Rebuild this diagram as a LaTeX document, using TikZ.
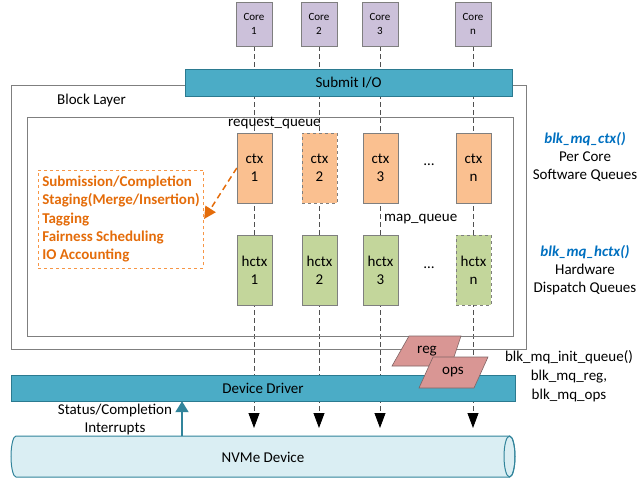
\documentclass[tikz,border=0pt]{standalone}
\usepackage{fontspec}
\setmainfont{Carlito}
\usetikzlibrary{arrows.meta,backgrounds}
\definecolor{corefill}{HTML}{CCC1DA}
\definecolor{boxgray}{HTML}{7F7F7F}
\definecolor{ctxfill}{HTML}{FAC090}
\definecolor{hctxfill}{HTML}{C3D69B}
\definecolor{barfill}{HTML}{4BACC6}
\definecolor{bardraw}{HTML}{2B7A90}
\definecolor{nvmefill}{HTML}{DAEEF3}
\definecolor{nvmedraw}{HTML}{31849B}
\definecolor{orangetxt}{HTML}{E46C0A}
\definecolor{orangebox}{HTML}{F79646}
\definecolor{bluetxt}{HTML}{0070C0}
\definecolor{regfill}{HTML}{D99694}
\definecolor{regdraw}{HTML}{7F6464}
\definecolor{dashgray}{HTML}{505050}
\tikzset{
  txt/.style={font=\fontsize{15}{18}\selectfont, inner sep=0pt},
  corebox/.style={draw=boxgray, fill=corefill, minimum width=36pt, minimum height=44pt,
    inner sep=0pt, align=center, font=\fontsize{11}{14}\selectfont},
  ctxbox/.style={draw=boxgray, fill=ctxfill, minimum width=35pt, minimum height=70pt,
    inner sep=0pt, align=center, font=\fontsize{15}{18}\selectfont},
  hctxbox/.style={ctxbox, fill=hctxfill},
  barbox/.style={draw=bardraw, fill=barfill, inner sep=0pt, font=\fontsize{15}{18}\selectfont},
  vline/.style={draw=dashgray, line width=0.8pt, dash pattern=on 5pt off 3pt,
    -{Triangle[width=11pt,length=15pt,color=black]}},
  frame/.style={draw=boxgray, line width=0.8pt},
  para/.style={draw=regdraw, fill=regfill, line width=0.6pt},
}
\begin{document}
\begin{tikzpicture}[x=1pt,y=-1pt]
\useasboundingbox (0,0) rectangle (640,484);

% containers
\draw[frame] (11,85) rectangle (526,349);
\draw[frame] (27,117) rectangle (513,336);
\node[txt, anchor=west] (blk) at (57,101) {Block Layer};
\node[txt, anchor=west] (rq) at (228,123) {request\_queue};

% cores
\node[corebox] (c1) at (254,24) {Core\\1};
\node[corebox] (c2) at (319,24) {Core\\2};
\node[corebox] (c3) at (380,24) {Core\\3};
\node[corebox] (cn) at (473,24) {Core\\n};

% submit bar
\node[barbox, minimum width=327pt, minimum height=27pt] (submit) at (348.5,82.5) {Submit I/O};

% ctx
\node[ctxbox] (x1) at (254.5,168) {ctx\\1};
\node[ctxbox, dashed] (x2) at (319.5,168) {ctx\\2};
\node[ctxbox] (x3) at (380.5,168) {ctx\\3};
\node[ctxbox] (xn) at (473.5,168) {ctx\\n};
\node[txt] (d1) at (429,165) {\ldots};

% hctx
\node[hctxbox] (h1) at (254.5,270) {hctx\\1};
\node[hctxbox] (h2) at (319.5,270) {hctx\\2};
\node[hctxbox] (h3) at (380.5,270) {hctx\\3};
\node[hctxbox, dashed] (hn) at (473.5,270) {hctx\\n};
\node[txt] (d2) at (429,268) {\ldots};
\node[txt, anchor=west] (mq) at (384,219) {map\_queue};

% orange box
\node[draw=orangebox, dashed, line width=0.8pt, text=orangetxt, align=left,
  font=\fontsize{15}{18.3}\selectfont\bfseries, minimum width=162pt, minimum height=98pt,
  inner xsep=4pt] (ob) at (121,219)
  {Submission/Completion\\Staging(Merge/Insertion)\\Tagging\\Fairness Scheduling\\IO Accounting};
\draw[draw=orangetxt, line width=1.5pt, dash pattern=on 6pt off 4pt,
  -{Triangle[width=12pt,length=12pt,color=orangetxt]}] (x1.west) -- (ob.east);

% right labels
\node[txt, align=center] (sw) at (585,157)
  {{\color{bluetxt}\bfseries\itshape blk\_mq\_ctx()}\\Per Core\\Software Queues};
\node[txt, align=center] (hw) at (585,270)
  {{\color{bluetxt}\bfseries\itshape blk\_mq\_hctx()}\\Hardware\\Dispatch Queues};

% device driver
\node[barbox, minimum width=504pt, minimum height=26pt] (driver) at (263,388) {Device Driver};

% reg / ops
\draw[para] (409,336) -- (461,336) -- (451,366) -- (392,366) -- cycle;
\node[txt] (reg) at (427,351) {reg};
\draw[para] (433,357) -- (488,357) -- (474,388) -- (419,388) -- cycle;
\node[txt] (ops) at (453,372) {ops};
\node[font=\fontsize{15}{19}\selectfont, inner sep=0pt, align=center] (init) at (569,376)
  {blk\_mq\_init\_queue()\\blk\_mq\_reg,\\blk\_mq\_ops};

% NVMe cylinder
\path[draw=nvmedraw, fill=nvmefill, line width=1pt]
  (16,436) -- (509.5,436) arc[start angle=-90, end angle=90, x radius=5.5, y radius=20.5]
  -- (16,477) arc[start angle=90, end angle=270, x radius=5, y radius=20.5] -- cycle;
\draw[draw=nvmedraw, line width=1pt] (509.5,456.5) ellipse[x radius=5.5, y radius=20.5];
\node[txt] (nvme) at (263,457) {NVMe Device};

% status arrow
\coordinate (s0) at (182,436);
\draw[draw=nvmedraw, line width=2pt, -{Triangle[width=13pt,length=11pt]}] (s0) -- (driver.south -| s0);
\node[txt, align=center] (st) at (115,419) {Status/Completion\\Interrupts};

% vertical dashed lines
\coordinate (t1) at (254,428);
\coordinate (t2) at (319,428);
\coordinate (t3) at (380,428);
\coordinate (tn) at (473,428);
\begin{pgfonlayer}{background}
\draw[vline] (c1.south) -- (t1);
\draw[vline] (c2.south) -- (t2);
\draw[vline] (c3.south) -- (t3);
\draw[vline] (cn.south) -- (tn);
\end{pgfonlayer}
\end{tikzpicture}
\end{document}
